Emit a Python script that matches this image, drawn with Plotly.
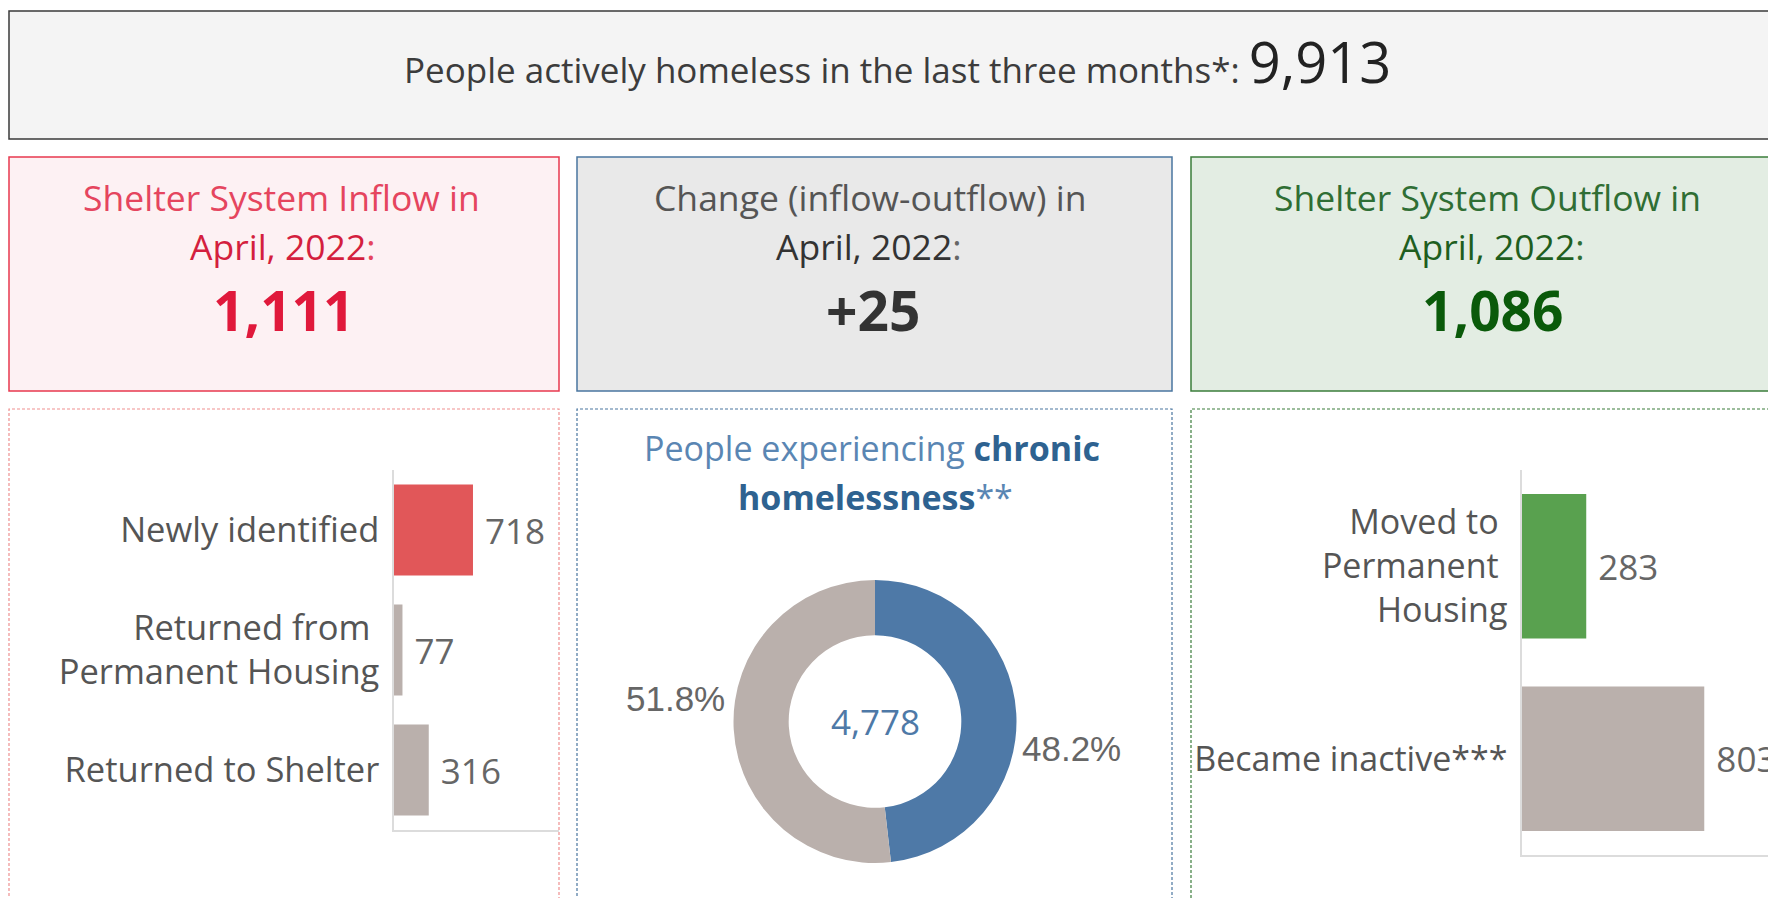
import plotly.graph_objects as go

# page body has an 8px margin, so the figure fills the rest of the window
OFF = 8
W, H = 1776 - OFF, 898 - OFF

# ---------------- data ----------------
total_active = 9913
inflow_total = 1111
outflow_total = 1086
change_value = 25
month_label = "April, 2022"

inflow_cats = ["Newly identified", "Returned from\u00a0<br>Permanent Housing", "Returned to Shelter"]
inflow_vals = [718, 77, 316]
inflow_colors = ["#e15759", "#bab0ac", "#bab0ac"]

outflow_cats = ["Moved to\u00a0<br>Permanent\u00a0<br>Housing", "Became inactive***"]
outflow_vals = [283, 803]
outflow_colors = ["#59a14f", "#bab0ac"]

chronic_labels = ["Chronic", "Not chronic"]
chronic_vals = [4778, 5135]
chronic_colors = ["#4e79a7", "#bab0ac"]

FONT = "Open Sans"


def px(x):
    return (x - OFF) / W


def py(y):
    return 1 - (y - OFF) / H


fig = go.Figure()

# inflow bars
fig.add_trace(go.Bar(
    x=inflow_vals, y=inflow_cats, orientation="h",
    marker=dict(color=inflow_colors, line=dict(width=0)),
    text=inflow_vals, texttemplate="\u00a0%{x}", textposition="outside",
    textfont=dict(family=FONT, size=35, color="#666666"),
    cliponaxis=False, xaxis="x", yaxis="y", width=0.76,
    hoverinfo="skip", showlegend=False,
))

# outflow bars
fig.add_trace(go.Bar(
    x=outflow_vals, y=outflow_cats, orientation="h",
    marker=dict(color=outflow_colors, line=dict(width=0)),
    text=outflow_vals, texttemplate="\u00a0%{x}", textposition="outside",
    textfont=dict(family=FONT, size=35, color="#666666"),
    cliponaxis=False, xaxis="x2", yaxis="y2", width=0.75,
    hoverinfo="skip", showlegend=False,
))

# donut
fig.add_trace(go.Pie(
    labels=chronic_labels, values=chronic_vals, hole=0.61,
    sort=False, direction="clockwise", rotation=0,
    marker=dict(colors=chronic_colors, line=dict(width=0)),
    textinfo="none",
    domain=dict(x=[px(733), px(1017)], y=[py(863), py(580)]),
    showlegend=False, hoverinfo="skip",
))

shapes = []


def rect(x0, y0, x1, y1, fill, line, width=1.5, dash="solid"):
    shapes.append(dict(type="rect", xref="paper", yref="paper",
                       x0=px(x0), x1=px(x1), y0=py(y1), y1=py(y0),
                       fillcolor=fill, line=dict(color=line, width=width, dash=dash),
                       layer="below"))


rect(9, 11, 1790, 139, "#f4f4f4", "#3a3a3a", 1.5)
rect(9, 157, 559, 391, "#fdf1f3", "#e8384f", 1.5)
rect(577, 157, 1172, 391, "#e9e9e9", "#4a76a0", 1.5)
rect(1191, 157, 1795, 391, "#e3ede3", "#3b7d3b", 1.5)
rect(9, 409, 559, 910, "rgba(0,0,0,0)", "#ef8f8f", 1.2, "3px,2px")
rect(577, 409, 1172, 910, "rgba(0,0,0,0)", "#4a76a0", 1.2, "3px,2px")
rect(1191, 409, 1795, 910, "rgba(0,0,0,0)", "#3b7d3b", 1.2, "3px,2px")

ann = []


def text(x, y, s, size, color, bold=False, family=FONT, xanchor="center"):
    ann.append(dict(xref="paper", yref="paper", x=px(x), y=py(y), text=s,
                    showarrow=False, xanchor=xanchor, yanchor="middle",
                    font=dict(family=family, size=size, color=color,
                              weight="bold" if bold else "normal")))


text(897, 61,
     "People actively homeless in the last three months*: "
     f"<span style='font-size:56px;color:#222222'>{total_active:,}</span>",
     35, "#3c3c3c")

# inflow KPI
text(281, 197, "Shelter System Inflow in", 35.5, "#e5455e")
text(283, 246, f"{month_label}<span style='color:#e5455e'>:</span>", 35.5, "#d41f3e")
text(283, 309, f"{inflow_total:,}", 55, "#e0193b", bold=True)

# change KPI
text(870, 197, "Change (inflow-outflow) in", 35.5, "#555555")
text(869, 246, f"{month_label}<span style='color:#666666'>:</span>", 35.5, "#333333")
text(873, 309, f"{change_value:+,}", 55, "#333333", bold=True)

# outflow KPI
text(1487, 197, "Shelter System Outflow in", 35.5, "#2f6e34")
text(1492, 246, f"{month_label}<span style='color:#2f6e34'>:</span>", 35.5, "#1e5e1e")
text(1492, 309, f"{outflow_total:,}", 55, "#0a5a0a", bold=True)

# donut title + centre value + percentages
text(872, 448, "People experiencing <b><span style='color:#2e6290'>chronic</span></b>", 34, "#5a86b3")
text(875, 497, "<b><span style='color:#2e6290'>homelessness</span></b>**", 34, "#5a86b3")
text(875, 721, f"{chronic_vals[0]:,}", 35, "#4e79a7")

tot = sum(chronic_vals)
pct_chronic = chronic_vals[0] / tot
pct_other = chronic_vals[1] / tot
text(727, 698, f"{pct_other:.1%}", 35, "#666666", family="Liberation Sans", xanchor="right")
text(1020, 748, f"{pct_chronic:.1%}", 35, "#666666", family="Liberation Sans", xanchor="left")

axis_common = dict(showgrid=False, zeroline=False, fixedrange=True)

fig.update_layout(
    width=W, height=H,
    margin=dict(l=0, r=0, t=0, b=0),
    paper_bgcolor="white", plot_bgcolor="rgba(0,0,0,0)",
    font=dict(family=FONT),
    shapes=shapes, annotations=ann,
    xaxis=dict(domain=[px(394), px(559)], range=[0, 1500], showline=True,
               linecolor="#dcdcdc", linewidth=1.5, showticklabels=False,
               ticks="", anchor="y", **axis_common),
    yaxis=dict(domain=[py(830), py(470)], type="category", autorange="reversed",
               showline=True, linecolor="#dcdcdc", linewidth=1.5,
               ticks="outside", ticklen=6, tickcolor="rgba(0,0,0,0)",
               tickfont=dict(family=FONT, size=34.5, color="#555555"),
               anchor="x", **axis_common),
    xaxis2=dict(domain=[px(1522), 1.0], range=[0, 1119], showline=True,
                linecolor="#dcdcdc", linewidth=1.5, showticklabels=False,
                ticks="", anchor="y2", **axis_common),
    yaxis2=dict(domain=[py(855), py(470)], type="category", autorange="reversed",
                showline=True, linecolor="#dcdcdc", linewidth=1.5,
                ticks="outside", ticklen=6, tickcolor="rgba(0,0,0,0)",
                tickfont=dict(family=FONT, size=34, color="#555555"),
                anchor="x2", **axis_common),
)

fig.write_html("out.html")
